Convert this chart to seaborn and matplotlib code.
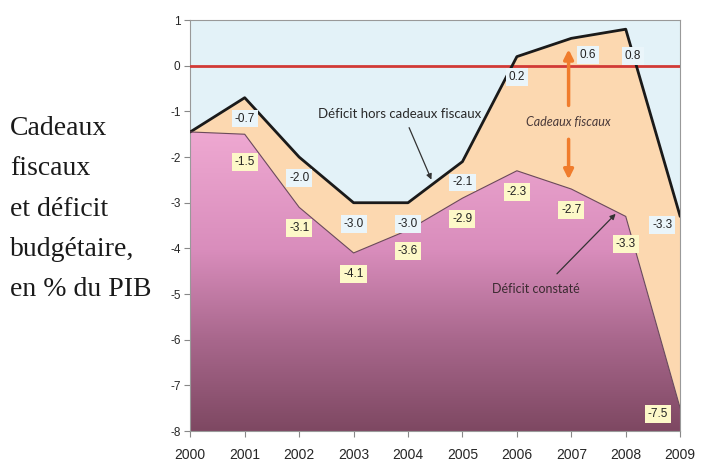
import numpy as np
import pandas as pd
import matplotlib
matplotlib.use("Agg")
import matplotlib.pyplot as plt
from matplotlib.colors import LinearSegmentedColormap
import seaborn as sns

years = [2000, 2001, 2002, 2003, 2004, 2005, 2006, 2007, 2008, 2009]
deficit_hors_cadeaux = [-1.45, -0.7, -2.0, -3.0, -3.0, -2.1, 0.2, 0.6, 0.8, -3.3]
deficit_constate = [-1.45, -1.5, -3.1, -4.1, -3.6, -2.9, -2.3, -2.7, -3.3, -7.5]
labels_hors = [None, "-0.7", "-2.0", "-3.0", "-3.0", "-2.1", "0.2", "0.6", "0.8", "-3.3"]
labels_constate = [None, "-1.5", "-3.1", "-4.1", "-3.6", "-2.9", "-2.3", "-2.7", "-3.3", "-7.5"]
yticks = [1, 0, -1, -2, -3, -4, -5, -6, -7, -8]
title_lines = ["Cadeaux", "fiscaux", "et déficit", "budgétaire,", "en % du PIB"]

df = pd.DataFrame({"annee": years, "hors": deficit_hors_cadeaux, "constate": deficit_constate})

sns.set_style("white")
plt.rcParams["font.family"] = ["Liberation Sans Narrow", "Liberation Sans", "DejaVu Sans"]

fig = plt.figure(figsize=(7.1, 4.67), dpi=100)
ax = fig.add_axes([0.268, 0.077, 0.69, 0.880])
ax.set_facecolor("#E3F2F8")

# peach area between the two series
ax.fill_between(df["annee"], df["hors"], df["constate"], color="#FCD8B0", lw=0, zorder=1)
# pink gradient area below deficit constaté
poly = ax.fill_between(df["annee"], df["constate"], -8, color="none", lw=0, zorder=1)
cmap = LinearSegmentedColormap.from_list(
    "pinkgrad", [(0.0, "#7E4862"), (0.3, "#A8678C"), (0.6, "#D98DBC"), (1.0, "#EFA9D2")])
grad = np.linspace(0, 1, 256).reshape(-1, 1)
im = ax.imshow(grad, extent=[2000, 2009, -8, -1.4], origin="lower", aspect="auto",
               cmap=cmap, zorder=1.5)
im.set_clip_path(poly.get_paths()[0], transform=ax.transData)

# zero line
ax.axhline(0, color="#D23A36", lw=2, zorder=3)

sns.lineplot(data=df, x="annee", y="hors", color="#1a1a1a", lw=2, ax=ax, zorder=4)
sns.lineplot(data=df, x="annee", y="constate", color="#6b4a5a", lw=0.8, ax=ax, zorder=4)

# value labels
hors_offsets = {2007: (12, -12), 2008: (5, -19), 2009: (-13, -6)}
constate_offsets = {2001: (0, -20), 2008: (0, -20), 2009: (-16, -4)}
for x, y, lab in zip(years, deficit_hors_cadeaux, labels_hors):
    if lab is None:
        continue
    off = hors_offsets.get(x, (0, -15))
    ax.annotate(lab, (x, y), xytext=off, textcoords="offset points", ha="center", va="center",
                fontsize=8.5, color="#222222", zorder=6,
                bbox=dict(boxstyle="square,pad=0.25", fc="#EAF5FA", ec="none"))
for x, y, lab in zip(years, deficit_constate, labels_constate):
    if lab is None:
        continue
    off = constate_offsets.get(x, (0, -15))
    ax.annotate(lab, (x, y), xytext=off, textcoords="offset points", ha="center", va="center",
                fontsize=8.5, color="#222222", zorder=6,
                bbox=dict(boxstyle="square,pad=0.25", fc="#FDF8C8", ec="none"))

# annotations
ax.text(2003.85, -1.05, "Déficit hors cadeaux fiscaux", ha="center", va="center",
        fontsize=9.5, color="#2a2a2a", family=["Lato", "DejaVu Sans"], zorder=6)
ax.annotate("", xy=(2004.45, -2.55), xytext=(2004.0, -1.3),
            arrowprops=dict(arrowstyle="-|>", color="#333333", lw=0.9, mutation_scale=8), zorder=6)
ax.text(2006.35, -4.9, "Déficit constaté", ha="center", va="center",
        fontsize=9, color="#3a2a30", family=["Lato", "DejaVu Sans"], zorder=6)
ax.annotate("", xy=(2007.85, -3.2), xytext=(2006.7, -4.6),
            arrowprops=dict(arrowstyle="-|>", color="#333333", lw=0.9, mutation_scale=8), zorder=6)
ax.text(2006.95, -1.23, "Cadeaux fiscaux", ha="center", va="center", style="italic",
        fontsize=9, color="#4a3a3a", family=["Lato", "DejaVu Sans"], zorder=6)
ax.annotate("", xy=(2006.95, 0.42), xytext=(2006.95, -0.93),
            arrowprops=dict(arrowstyle="-|>", color="#F07C2C", lw=2.5, mutation_scale=14), zorder=6)
ax.annotate("", xy=(2006.95, -2.55), xytext=(2006.95, -1.55),
            arrowprops=dict(arrowstyle="-|>", color="#F07C2C", lw=2.5, mutation_scale=14), zorder=6)

ax.set_xlim(2000, 2009)
ax.set_ylim(-8, 1)
ax.set_xticks(years)
ax.set_xticklabels([str(y) for y in years], fontsize=10)
ax.set_yticks(yticks)
ax.set_yticklabels([str(t) for t in yticks], fontsize=8.5)
ax.set_xlabel("")
ax.set_ylabel("")
ax.tick_params(axis="both", direction="out", length=4, width=0.8, color="#888888",
               bottom=True, left=True, pad=3)
ax.tick_params(axis="x", pad=8)
for s in ax.spines.values():
    s.set_color("#999999")
    s.set_linewidth(0.8)

for i, line in enumerate(title_lines):
    fig.text(0.014, 1 - (128 + i * 40.5) / 467, line, ha="left", va="center",
             fontsize=20, family=["Liberation Serif", "DejaVu Serif"], color="#1a1a1a")

fig.savefig("out.png", dpi=100)
